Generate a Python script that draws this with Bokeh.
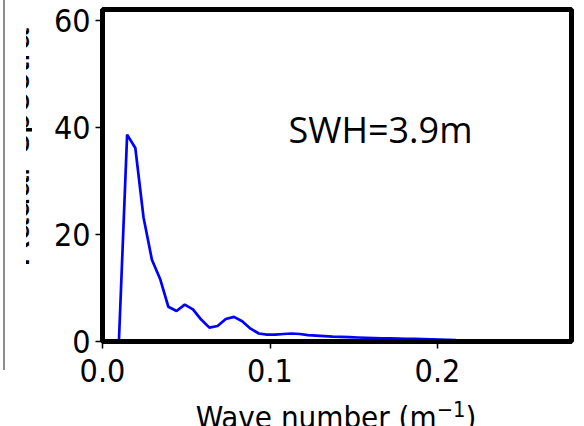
from bokeh.plotting import figure
from bokeh.models import Range1d, FixedTicker, Label, Div, NumeralTickFormatter
from bokeh.layouts import row, column
from bokeh.embed import file_html
from bokeh.resources import INLINE

# ---- data ----
wavenumber = [0.0098, 0.0147, 0.0196, 0.0245, 0.0295, 0.0344, 0.0393, 0.0442,
              0.0491, 0.0540, 0.0589, 0.0638, 0.0687, 0.0736, 0.0785, 0.0834,
              0.0884, 0.0933, 0.0982, 0.1031, 0.1080, 0.1129, 0.1178, 0.1227,
              0.1276, 0.1325, 0.1374, 0.1424, 0.1473, 0.1522, 0.1571, 0.1620,
              0.1669, 0.1718, 0.1767, 0.1816, 0.1865, 0.1914, 0.1963, 0.2012,
              0.2061, 0.2110, 0.2160, 0.2209, 0.2258, 0.2307, 0.2356]
spectrum = [0.0, 38.7, 36.2, 23.2, 15.3, 11.7, 6.5, 5.7,
            6.9, 6.0, 4.1, 2.6, 2.9, 4.2, 4.6, 3.8,
            2.4, 1.5, 1.3, 1.3, 1.4, 1.5, 1.4, 1.2,
            1.1, 1.0, 0.9, 0.85, 0.8, 0.75, 0.7, 0.65,
            0.6, 0.6, 0.55, 0.5, 0.5, 0.45, 0.4, 0.35,
            0.3, 0.25, 0.2, 0.2, 0.15, 0.1, 0.1]
x_ticks = [0.0, 0.1, 0.2]
y_ticks = [0, 20, 40, 60]
x_label = "Wave number (m<sup style=\"font-size:0.7em;line-height:0;\">&minus;1</sup>)"
y_label = "Radar spectra"
annotation = "SWH=3.9m"

TICK_FONT = "'DejaVu Sans Condensed', 'Liberation Sans Narrow', Roboto, sans-serif"

p = figure(width=552, height=401, output_backend="svg", toolbar_location=None,
           x_range=Range1d(0, 0.28), y_range=Range1d(0, 62.1),
           min_border_left=70, min_border_right=13, min_border_top=9,
           min_border_bottom=60)
p.background_fill_color = "white"
p.border_fill_color = "white"
p.outline_line_color = "black"
p.outline_line_width = 5
p.xgrid.visible = False
p.ygrid.visible = False

p.line(wavenumber, spectrum, line_color="#0000ff", line_width=2.7)

for ax in (p.xaxis[0], p.yaxis[0]):
    ax.axis_line_width = 5
    ax.axis_line_color = "black"
    ax.major_tick_line_width = 1.5
    ax.major_tick_out = 7
    ax.major_tick_in = 0
    ax.minor_tick_line_color = None
    ax.major_label_text_font = TICK_FONT
    ax.major_label_text_font_size = "32px"
    ax.major_label_text_color = "black"

p.xaxis.ticker = FixedTicker(ticks=x_ticks)
p.xaxis.formatter = NumeralTickFormatter(format="0.0")
p.xaxis.major_label_standoff = 10
p.yaxis.ticker = FixedTicker(ticks=y_ticks)
p.yaxis.major_label_standoff = 5

p.add_layout(Label(x=0.111, y=39.7, text=annotation, text_align="left",
                   text_baseline="alphabetic", text_font="Open Sans",
                   text_font_size="36px", text_color="black"))

left_html = (
    '<div style="position:relative;width:32px;height:401px;overflow:hidden;">'
    '<div style="position:absolute;left:3px;top:0px;width:2px;height:370px;'
    'background:#8c8c8c;"></div>'
    '<div style="position:absolute;left:26px;top:0px;width:6px;height:401px;'
    'overflow:hidden;">'
    '<div style="position:absolute;left:-28.7px;top:267px;transform-origin:0 0;'
    'transform:rotate(-90deg);white-space:nowrap;font-family:\'Liberation Sans\','
    'sans-serif;font-size:38px;line-height:1;color:black;">' + y_label + '</div>'
    '</div></div>'
)
bottom_html = (
    '<div style="position:relative;width:584px;height:25px;overflow:hidden;">'
    '<div style="position:absolute;left:0px;top:1px;width:672px;text-align:center;'
    'white-space:nowrap;font-family:' + TICK_FONT.replace("'", "&#39;") + ';'
    'font-size:31px;line-height:1;color:black;">' + x_label + '</div></div>'
)

left_div = Div(text=left_html, width=32, height=401, margin=0)
bottom_div = Div(text=bottom_html, width=584, height=25, margin=0)

layout = column(row(left_div, p), bottom_div)

open("out.html", "w").write(file_html(layout, INLINE))
